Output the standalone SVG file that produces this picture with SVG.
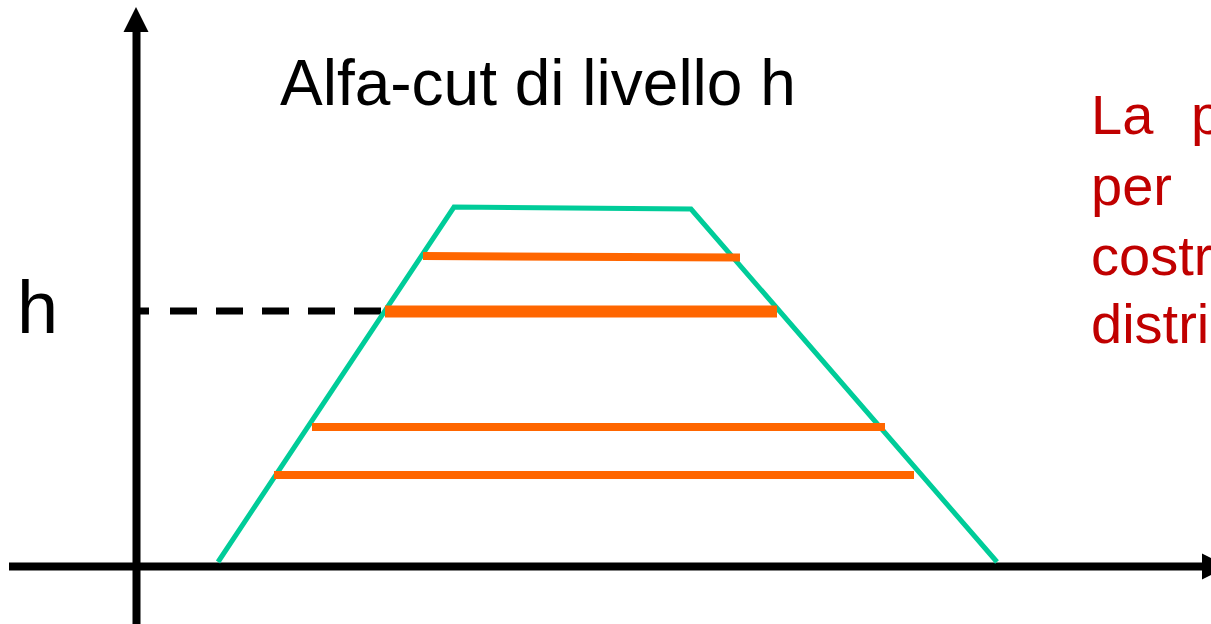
<svg xmlns="http://www.w3.org/2000/svg" width="1211" height="624" viewBox="0 0 1211 624">
  <style>
    .axis { stroke: #000; stroke-width: 8; fill: none; }
    .head { fill: #000; }
    .trap { stroke: #00CC99; stroke-width: 5; fill: none; stroke-linejoin: miter; }
    .cut { stroke: #FF6600; stroke-width: 8; }
    .cut-h { stroke: #FF6600; stroke-width: 12; }
    .lbl { font-family: "Liberation Sans", Arial, sans-serif; fill: #000; }
    .red { font-family: "Liberation Sans", Arial, sans-serif; fill: #C00000; font-size: 56px; }
  </style>
  <rect width="1211" height="624" fill="#fff"/>
  <g id="axes">
    <line class="axis" x1="136.5" y1="624" x2="136.5" y2="28"/>
    <polygon class="head" points="136,7 123.5,32 148.5,32"/>
    <line class="axis" x1="9" y1="566.5" x2="1205" y2="566.5"/>
    <polygon class="head" points="1202,553.5 1228,566.5 1202,579.5"/>
  </g>
  <g id="dashed">
    <line x1="140" y1="311" x2="149" y2="311" stroke="#000" stroke-width="7"/>
    <line x1="170" y1="311" x2="385" y2="311" stroke="#000" stroke-width="7" stroke-dasharray="27 19"/>
  </g>
  <g id="trapezoid">
    <polyline class="trap" points="218,562 454,207 691,209 997,562"/>
  </g>
  <g id="cuts">
    <line class="cut" x1="423" y1="256" x2="740" y2="257.5"/>
    <line class="cut-h" x1="385" y1="311.5" x2="777" y2="311.5"/>
    <line class="cut" x1="312" y1="427" x2="885" y2="427"/>
    <line class="cut" x1="274" y1="475" x2="914" y2="475"/>
  </g>
  <g id="title">
    <text class="lbl" x="280" y="105" font-size="64">Alfa-cut di livello h</text>
  </g>
  <g id="h-label">
    <text class="lbl" x="17" y="333" font-size="74">h</text>
  </g>
  <g id="note">
    <text class="red" y="134"><tspan x="1091">La</tspan><tspan x="1191">p</tspan></text>
    <text class="red" x="1091" y="205">per</text>
    <text class="red" x="1091" y="275">costr</text>
    <text class="red" x="1091" y="343">distri</text>
  </g>
</svg>
